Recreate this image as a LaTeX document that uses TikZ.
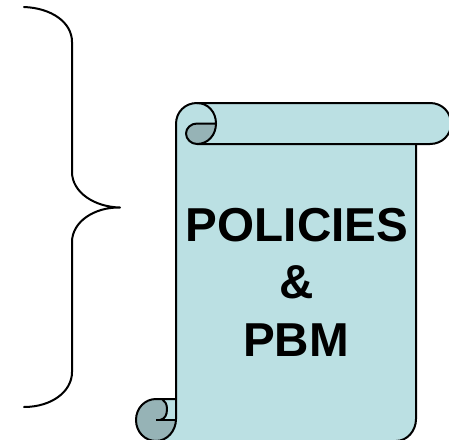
\documentclass[tikz,border=0pt]{standalone}
\usepackage{fontspec}
\setmainfont{Liberation Sans}
\definecolor{scroll}{HTML}{BBE0E3}
\definecolor{rolled}{HTML}{96B3B6}
\tikzset{
  ink/.style={draw=black,line width=2pt,line join=round},
  label/.style={font=\bfseries\fontsize{47.6}{57}\selectfont,text=black,inner sep=0pt,anchor=base}
}
\begin{document}
\begin{tikzpicture}[x=1pt,y=-1pt]
\useasboundingbox (0,0) rectangle (449,439);
\clip (0,0) rectangle (449,439);
% body
\path[fill=scroll] (176,124) -- (176,399) -- (156,399) -- (156,441) -- (396,441)
  .. controls (407,441) and (416,431) .. (416,419) -- (416,144) -- (430,144)
  .. controls (442,144) and (451,135) .. (451,124) .. controls (451,112) and (442,103) .. (430,103) -- (197,103)
  .. controls (185,103) and (176,112) .. (176,124) -- cycle;
% top roll curl
\path[fill=rolled] (197,123.5) .. controls (191,123.5) and (186,128) .. (186,133.5) .. controls (186,139) and (191,143.5) .. (197,143.5)
  .. controls (208,143.5) and (216,135) .. (216,123.5) -- cycle;
\draw[ink] (176,419) -- (176,124) .. controls (176,112) and (185,103) .. (197,103) -- (430,103)
  .. controls (442,103) and (451,112) .. (451,124) .. controls (451,135) and (442,144) .. (430,144) -- (197,144);
\draw[ink] (197,103) .. controls (208,103) and (216,112) .. (216,123.5) .. controls (216,135) and (208,144) .. (197,144)
  .. controls (191,144) and (186,139) .. (186,133.5) .. controls (186,128) and (191,123.5) .. (197,123.5) -- (216,123.5);
\draw[ink] (416,144) -- (416,419) .. controls (416,431) and (407,441) .. (396,441) -- (156,441);
% bottom roll
\path[fill=rolled] (156,399) .. controls (145,399) and (136,408) .. (136,420) .. controls (136,432) and (145,441) .. (156,441)
  .. controls (167,441) and (176,431) .. (176,420) -- (156,420) -- (160,420) .. controls (165,419) and (167,415) .. (167,409) .. controls (167,404) and (165,401) .. (162,399) -- cycle;
\draw[ink] (176,399) -- (156,399) .. controls (145,399) and (136,408) .. (136,420) .. controls (136,432) and (145,441) .. (156,441)
  .. controls (167,441) and (176,431) .. (176,419);
\draw[ink] (162,399) .. controls (165,401) and (167,404) .. (167,409) .. controls (167,415) and (165,419) .. (160,420);
\draw[ink] (156,420) -- (176,420);
% brace
\draw[ink,line cap=round] (24,7) .. controls (51,8) and (72,22) .. (72,42) -- (72,172)
  .. controls (72,192) and (94,207) .. (120,207.5) .. controls (94,207) and (72,222) .. (72,242) -- (72,372)
  .. controls (72,392) and (51,407) .. (24,407);
% text
\node[label] (a) at (297,241) {POLICIES};
\node[label] (b) at (296.5,298.5) {\&};
\node[label] (c) at (296,356) {PBM};
\end{tikzpicture}
\end{document}
